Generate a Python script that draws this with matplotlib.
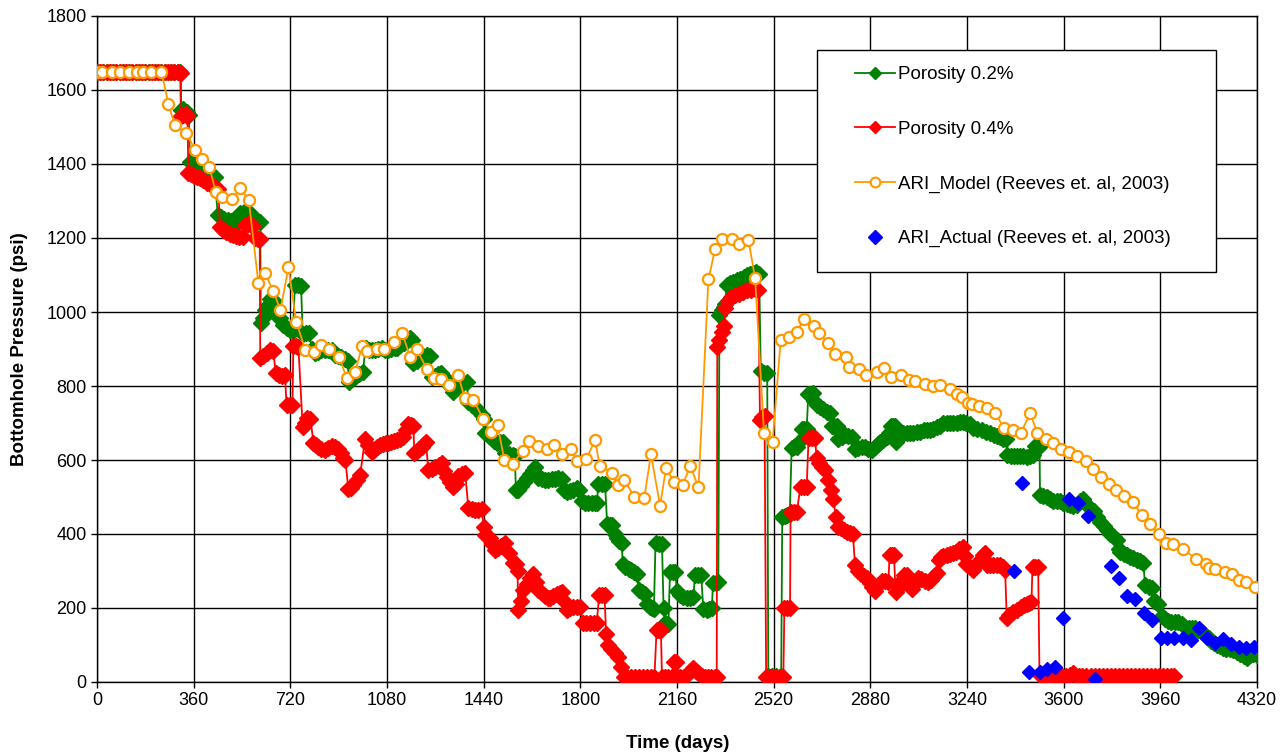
import matplotlib
matplotlib.use("Agg")
import matplotlib.pyplot as plt
from matplotlib.patches import Rectangle
from matplotlib.lines import Line2D

plt.rcParams["font.family"] = ["Liberation Sans", "DejaVu Sans"]

# (day, psi)
green_pts = [
    (0, 1650), (12, 1650), (24, 1650), (36, 1650), (48, 1650), (60, 1650), (72, 1650), (84, 1650),
    (96, 1650), (108, 1650), (120, 1650), (132, 1650), (144, 1650), (156, 1650), (168, 1650),
    (180, 1650), (192, 1650), (204, 1650), (216, 1650), (228, 1650), (240, 1650), (252, 1650),
    (264, 1650), (276, 1650), (288, 1650), (300, 1650), (310, 1650),
    (312, 1545), (322, 1548), (334, 1540), (342, 1532), (346, 1405), (356, 1402), (366, 1400),
    (378, 1396), (390, 1372), (402, 1370), (414, 1368), (426, 1366), (438, 1364), (450, 1262),
    (462, 1258), (474, 1252), (486, 1248), (498, 1246), (510, 1244), (522, 1240), (534, 1268),
    (546, 1270), (558, 1268), (572, 1266), (584, 1244), (596, 1244), (608, 1242), (610, 970),
    (618, 985), (626, 1005), (636, 1020), (646, 1034), (658, 1030), (668, 992), (680, 985),
    (694, 965), (706, 956), (718, 952), (730, 950), (737, 1073), (748, 1072), (760, 1070),
    (766, 940), (778, 942), (790, 944), (800, 900), (812, 888), (824, 892), (836, 896), (848, 897),
    (860, 897), (874, 897), (886, 885), (898, 880), (910, 878), (922, 872), (934, 868), (938, 812),
    (950, 818), (961, 825), (975, 832), (990, 839), (1000, 902), (1012, 898), (1024, 897),
    (1036, 897), (1048, 900), (1060, 902), (1072, 898), (1084, 897), (1096, 900), (1108, 902),
    (1118, 904), (1130, 910), (1142, 915), (1154, 922), (1166, 929), (1172, 925), (1178, 861),
    (1190, 868), (1203, 876), (1215, 880), (1228, 884), (1240, 880), (1246, 825), (1258, 828),
    (1270, 832), (1280, 834), (1290, 826), (1302, 816), (1314, 800), (1327, 785), (1340, 795),
    (1352, 803), (1364, 808), (1377, 811), (1383, 758), (1396, 750), (1408, 744), (1420, 733),
    (1433, 722), (1440, 712), (1445, 672), (1458, 665), (1470, 659), (1480, 652), (1488, 645),
    (1500, 648), (1513, 650), (1520, 618), (1535, 616), (1550, 614), (1556, 612), (1560, 519),
    (1569, 519), (1580, 530), (1590, 540), (1600, 551), (1612, 562), (1622, 572), (1631, 582),
    (1638, 560), (1644, 551), (1656, 548), (1668, 546), (1681, 546), (1694, 548), (1706, 550),
    (1718, 551), (1730, 548), (1740, 520), (1749, 514), (1760, 517), (1774, 520), (1786, 524),
    (1796, 520), (1806, 490), (1817, 483), (1830, 483), (1842, 483), (1855, 483), (1862, 483),
    (1866, 535), (1880, 536), (1892, 535), (1900, 426), (1910, 424), (1919, 424), (1928, 400),
    (1935, 388), (1945, 380), (1954, 375), (1958, 320), (1968, 312), (1980, 305), (1990, 302),
    (2000, 298), (2010, 293), (2018, 250), (2030, 242), (2041, 238), (2050, 210), (2058, 204),
    (2066, 200), (2074, 198), (2080, 375), (2092, 374), (2104, 373), (2110, 200), (2115, 160),
    (2122, 158), (2128, 157), (2134, 298), (2144, 297), (2153, 297), (2160, 245), (2172, 236),
    (2184, 230), (2196, 226), (2208, 228), (2221, 230), (2227, 289), (2238, 289), (2250, 289),
    (2258, 198), (2270, 195), (2280, 198), (2290, 200), (2294, 267), (2304, 268), (2314, 270),
    (2318, 992), (2326, 1005), (2334, 1014), (2340, 1022), (2345, 1073), (2358, 1078),
    (2370, 1082), (2382, 1086), (2395, 1090), (2408, 1095), (2420, 1100), (2432, 1103),
    (2444, 1106), (2456, 1109), (2466, 1104), (2472, 840), (2484, 836), (2496, 834), (2500, 15),
    (2515, 15), (2530, 15), (2548, 15), (2552, 445), (2562, 448), (2570, 451), (2580, 455),
    (2587, 632), (2596, 634), (2606, 635), (2616, 650), (2624, 685), (2634, 685), (2643, 685),
    (2649, 778), (2657, 779), (2665, 780), (2672, 760), (2680, 749), (2692, 742), (2705, 737),
    (2718, 731), (2730, 728), (2736, 692), (2746, 692), (2755, 692), (2761, 656), (2774, 662),
    (2786, 667), (2798, 665), (2811, 662), (2823, 630), (2835, 633), (2848, 636), (2860, 636),
    (2872, 631), (2885, 627), (2898, 635), (2908, 642), (2916, 649), (2928, 655), (2941, 661),
    (2950, 672), (2956, 692), (2963, 693), (2970, 692), (2975, 650), (2988, 660), (3003, 672),
    (3016, 672), (3028, 672), (3040, 674), (3052, 676), (3065, 677), (3078, 680), (3090, 680),
    (3102, 680), (3114, 684), (3127, 688), (3140, 692), (3152, 699), (3164, 700), (3176, 700),
    (3188, 700), (3202, 701), (3214, 702), (3226, 703), (3238, 700), (3250, 696), (3263, 686),
    (3278, 684), (3294, 681), (3310, 676), (3326, 672), (3340, 668), (3352, 664), (3363, 661),
    (3375, 658), (3385, 656), (3390, 614), (3402, 612), (3414, 611), (3425, 611), (3438, 610),
    (3450, 610), (3462, 609), (3475, 611), (3487, 614), (3493, 638), (3502, 638), (3510, 638),
    (3512, 505), (3524, 502), (3537, 500), (3549, 494), (3562, 490), (3575, 490), (3587, 488),
    (3599, 484), (3612, 482), (3624, 479), (3636, 476), (3649, 479), (3660, 488), (3673, 494),
    (3685, 480), (3698, 470), (3712, 461), (3725, 447), (3737, 433), (3750, 422), (3762, 411),
    (3774, 400), (3787, 392), (3799, 384), (3805, 360), (3811, 352), (3823, 346), (3835, 343),
    (3847, 339), (3860, 335), (3872, 330), (3885, 326), (3897, 321), (3903, 262), (3916, 257),
    (3928, 253), (3935, 218), (3944, 215), (3953, 212), (3966, 178), (3978, 170), (3990, 165),
    (4000, 163), (4015, 163), (4027, 163), (4040, 156), (4052, 149), (4065, 147), (4077, 146),
    (4089, 145), (4102, 140), (4115, 135), (4127, 128), (4140, 120), (4150, 112), (4160, 106),
    (4170, 100), (4182, 96), (4194, 92), (4206, 90), (4218, 88), (4232, 86), (4245, 80),
    (4258, 75), (4270, 70), (4282, 66), (4294, 72), (4306, 76), (4320, 73),
]

red_pts = [
    (0, 1650), (12, 1650), (24, 1650), (36, 1650), (48, 1650), (60, 1650), (72, 1650), (84, 1650),
    (96, 1650), (108, 1650), (120, 1650), (132, 1650), (144, 1650), (156, 1650), (168, 1650),
    (180, 1650), (192, 1650), (204, 1650), (216, 1650), (228, 1650), (240, 1650), (252, 1650),
    (264, 1650), (276, 1650), (288, 1650), (300, 1650), (312, 1645),
    (314, 1530), (322, 1532), (330, 1535), (337, 1530), (340, 1375), (350, 1372), (360, 1368),
    (372, 1365), (384, 1362), (396, 1357), (408, 1348), (420, 1345), (432, 1340), (444, 1336),
    (452, 1332), (458, 1230), (470, 1222), (482, 1215), (494, 1212), (506, 1208), (518, 1206),
    (530, 1204), (545, 1202), (552, 1235), (562, 1238), (572, 1236), (582, 1232), (590, 1200),
    (598, 1198), (606, 1196), (608, 875), (620, 880), (632, 890), (644, 897), (656, 895),
    (666, 835), (678, 830), (690, 828), (700, 830), (706, 748), (718, 750), (728, 748), (731, 908),
    (742, 907), (750, 906), (766, 690), (775, 700), (783, 713), (795, 712), (806, 647), (815, 640),
    (824, 636), (836, 630), (849, 627), (862, 632), (874, 638), (886, 634), (899, 630), (908, 618),
    (917, 605), (925, 600), (936, 521), (945, 525), (955, 532), (968, 545), (980, 559), (998, 656),
    (1010, 640), (1023, 622), (1035, 630), (1044, 636), (1054, 641), (1066, 643), (1076, 645),
    (1085, 645), (1096, 648), (1106, 651), (1116, 654), (1128, 658), (1141, 663), (1150, 680),
    (1160, 697), (1170, 694), (1178, 692), (1182, 618), (1190, 625), (1200, 630), (1209, 636),
    (1218, 643), (1225, 649), (1234, 573), (1246, 577), (1259, 582), (1272, 587), (1284, 591),
    (1293, 570), (1302, 553), (1315, 540), (1327, 528), (1337, 536), (1346, 557), (1358, 562),
    (1371, 566), (1383, 470), (1396, 468), (1408, 466), (1420, 466), (1433, 467), (1440, 420),
    (1445, 396), (1455, 392), (1464, 388), (1472, 372), (1482, 357), (1494, 362), (1506, 368),
    (1520, 375), (1535, 350), (1550, 322), (1560, 320), (1566, 300), (1569, 195), (1578, 220),
    (1588, 250), (1600, 266), (1612, 280), (1625, 292), (1635, 270), (1644, 249), (1656, 240),
    (1668, 233), (1680, 228), (1687, 226), (1700, 232), (1712, 238), (1724, 240), (1731, 244),
    (1740, 220), (1749, 195), (1760, 200), (1774, 202), (1786, 204), (1799, 204), (1811, 159),
    (1822, 159), (1836, 159), (1850, 159), (1861, 159), (1870, 235), (1880, 235), (1890, 235),
    (1896, 130), (1904, 100), (1915, 90), (1930, 78), (1942, 68), (1952, 40), (1961, 14),
    (1975, 14), (1990, 14), (2005, 14), (2020, 14), (2035, 14), (2050, 14), (2062, 14), (2076, 14),
    (2084, 141), (2092, 141), (2100, 141), (2104, 14), (2115, 14), (2128, 14), (2140, 14),
    (2147, 55), (2155, 55), (2160, 14), (2172, 14), (2185, 14), (2198, 20), (2210, 30), (2221, 37),
    (2232, 30), (2240, 25), (2252, 15), (2264, 14), (2276, 14), (2288, 14), (2300, 14), (2308, 14),
    (2310, 906), (2318, 925), (2326, 945), (2334, 962), (2338, 1010), (2350, 1030), (2362, 1040),
    (2375, 1046), (2390, 1050), (2405, 1055), (2420, 1059), (2435, 1060), (2450, 1062),
    (2463, 1060), (2469, 708), (2478, 715), (2486, 718), (2492, 14), (2505, 14), (2518, 14),
    (2530, 14), (2544, 14), (2556, 14), (2560, 199), (2570, 199), (2581, 199), (2583, 460),
    (2594, 460), (2606, 460), (2620, 528), (2632, 528), (2643, 528), (2650, 659), (2662, 659),
    (2674, 659), (2680, 605), (2690, 592), (2700, 580), (2711, 573), (2722, 545), (2732, 520),
    (2742, 494), (2752, 445), (2761, 420), (2772, 415), (2782, 410), (2792, 406), (2803, 403),
    (2815, 400), (2823, 316), (2835, 300), (2846, 292), (2857, 287), (2867, 282), (2878, 268),
    (2888, 256), (2898, 246), (2910, 262), (2922, 274), (2935, 272), (2947, 271), (2952, 343),
    (2960, 344), (2968, 343), (2974, 244), (2985, 256), (2995, 274), (3004, 289), (3015, 289),
    (3024, 262), (3034, 252), (3046, 268), (3058, 280), (3070, 278), (3082, 272), (3094, 270),
    (3105, 276), (3116, 286), (3127, 294), (3135, 330), (3145, 338), (3152, 341), (3165, 344),
    (3178, 346), (3189, 348), (3200, 352), (3212, 360), (3226, 366), (3232, 340), (3238, 320),
    (3250, 310), (3263, 303), (3275, 315), (3288, 330), (3300, 342), (3306, 348), (3313, 316),
    (3325, 316), (3338, 316), (3350, 316), (3363, 316), (3374, 310), (3382, 303), (3388, 172),
    (3398, 180), (3410, 188), (3425, 195), (3440, 202), (3452, 208), (3462, 212), (3472, 214),
    (3480, 216), (3484, 312), (3494, 312), (3505, 312), (3510, 18), (3520, 16), (3535, 16),
    (3550, 16), (3565, 16), (3580, 16), (3595, 16), (3610, 17), (3622, 20), (3633, 24), (3644, 18),
    (3656, 16), (3670, 16), (3685, 16), (3700, 16), (3715, 16), (3730, 16), (3745, 16), (3760, 16),
    (3775, 16), (3790, 16), (3805, 16), (3820, 16), (3835, 16), (3850, 16), (3865, 16), (3880, 16),
    (3895, 16), (3910, 16), (3925, 16), (3940, 16), (3955, 16), (3970, 16), (3985, 16), (4000, 16),
    (4010, 16),
]

model_pts = [
    (0, 1650), (20, 1650), (55, 1650), (85, 1650), (120, 1650), (148, 1650), (172, 1650),
    (200, 1650), (240, 1650), (266, 1562), (290, 1505), (333, 1483), (365, 1438), (390, 1413),
    (418, 1393), (443, 1323), (464, 1310), (502, 1305), (533, 1336), (565, 1304), (601, 1078),
    (625, 1105), (656, 1058), (683, 1005), (713, 1121), (742, 974), (776, 897), (809, 892),
    (833, 910), (865, 900), (902, 878), (930, 821), (961, 837), (987, 908), (1005, 894),
    (1043, 901), (1069, 901), (1106, 919), (1136, 944), (1166, 879), (1191, 899), (1228, 846),
    (1255, 821), (1280, 820), (1312, 802), (1345, 831), (1369, 767), (1402, 762), (1439, 710),
    (1466, 677), (1492, 694), (1517, 600), (1548, 589), (1585, 625), (1608, 652), (1642, 638),
    (1675, 631), (1702, 641), (1733, 615), (1764, 629), (1786, 598), (1821, 602), (1855, 653),
    (1872, 585), (1919, 564), (1939, 532), (1964, 546), (2001, 501), (2038, 496), (2063, 616),
    (2097, 476), (2119, 578), (2150, 541), (2181, 532), (2209, 584), (2240, 526), (2277, 1088),
    (2302, 1170), (2329, 1196), (2364, 1196), (2392, 1183), (2426, 1195), (2451, 1091),
    (2484, 674), (2516, 648), (2546, 923), (2578, 932), (2606, 947), (2634, 981), (2672, 962),
    (2690, 942), (2724, 917), (2750, 886), (2790, 878), (2802, 851), (2837, 847), (2864, 829),
    (2904, 837), (2932, 850), (2956, 825), (2994, 829), (3023, 817), (3047, 814), (3084, 805),
    (3112, 801), (3140, 802), (3177, 791), (3202, 778), (3222, 770), (3245, 755), (3258, 751),
    (3286, 746), (3316, 740), (3344, 728), (3378, 686), (3413, 681), (3441, 674), (3475, 726),
    (3502, 674), (3534, 656), (3559, 647), (3589, 631), (3621, 622), (3649, 611), (3682, 596),
    (3711, 575), (3739, 553), (3767, 535), (3795, 519), (3824, 503), (3857, 486), (3891, 452),
    (3922, 427), (3955, 400), (3980, 377), (4009, 372), (4043, 360), (4093, 333), (4130, 318),
    (4143, 309), (4164, 305), (4199, 298), (4226, 291), (4253, 276), (4279, 271), (4313, 256),
]

actual_days = [3416, 3444, 3470, 3511, 3538, 3568, 3598, 3618, 3655, 3692, 3718, 3777, 3806,
               3836, 3866, 3899, 3930, 3961, 3984, 4012, 4043, 4074, 4104, 4135, 4162, 4194,
               4222, 4252, 4280, 4308]
actual_psi = [300, 538, 26, 26, 35, 40, 174, 495, 484, 450, 7, 314, 282, 233, 225, 186, 167,
              120, 118, 120, 120, 114, 145, 120, 105, 115, 104, 95, 91, 94]

series_labels = ["Porosity 0.2%", "Porosity 0.4%", "ARI_Model (Reeves et. al, 2003)",
                 "ARI_Actual (Reeves et. al, 2003)"]

W, H = 1280, 754
fig = plt.figure(figsize=(W / 100, H / 100), dpi=100)
ax = fig.add_axes([97 / W, 1 - 682 / H, (1257 - 97) / W, (682 - 16) / H])

gx, gy = zip(*green_pts)
rx, ry = zip(*red_pts)
mx, my = zip(*model_pts)

ax.plot(gx, gy, color="#008000", lw=1.3, marker="D", ms=8, mec="#008000", mfc="#008000",
        zorder=3)
ax.plot(rx, ry, color="#FF0000", lw=1.3, marker="D", ms=8, mec="#FF0000", mfc="#FF0000",
        zorder=4)
ax.plot(mx, my, color="#FF9900", lw=1.3, marker="o", ms=8, mec="#FF9900", mfc="white",
        mew=1.6, zorder=5)
ax.plot(actual_days, actual_psi, ls="none", marker="D", ms=7.5, color="#0000FF", zorder=6)

ax.set_xlim(0, 4320)
ax.set_ylim(0, 1800)
ax.set_xticks(range(0, 4321, 360))
ax.set_yticks(range(0, 1801, 200))
ax.grid(True, color="black", lw=1)
ax.set_axisbelow(True)
ax.tick_params(labelsize=13, length=4, color="black", width=1)
for s in ax.spines.values():
    s.set_color("black")
    s.set_linewidth(1)

fig.text(678 / W, 1 - 743 / H, "Time (days)", ha="center", va="center",
         fontsize=13.5, fontweight="bold")
fig.text(20 / W, 1 - 349 / H, "Bottomhole Pressure (psi)", ha="center", va="center",
         rotation=90, fontsize=13.5, fontweight="bold")

# legend box
fig.add_artist(Rectangle((817 / W, 1 - 272 / H), (1216 - 817) / W, (272 - 50) / H,
                         transform=fig.transFigure, facecolor="white", edgecolor="black",
                         lw=1, zorder=2))
handles = [
    Line2D([], [], color="#008000", lw=1.3, marker="D", ms=6, mfc="#008000", mec="#008000"),
    Line2D([], [], color="#FF0000", lw=1.3, marker="D", ms=6, mfc="#FF0000", mec="#FF0000"),
    Line2D([], [], color="#FF9900", lw=1.3, marker="o", ms=7, mfc="white", mec="#FF9900", mew=1.5),
    Line2D([], [], ls="none", marker="D", ms=7, color="#0000FF"),
]
leg = fig.legend(handles, series_labels, loc="upper left",
                 bbox_to_anchor=(855 / W, 1 - 66 / H), bbox_transform=fig.transFigure,
                 frameon=False, fontsize=13.5, borderpad=0, borderaxespad=0,
                 handlelength=2.15, handletextpad=0.15, labelspacing=2.0, numpoints=1)
leg.set_zorder(3)

fig.savefig("out.png", dpi=100)
